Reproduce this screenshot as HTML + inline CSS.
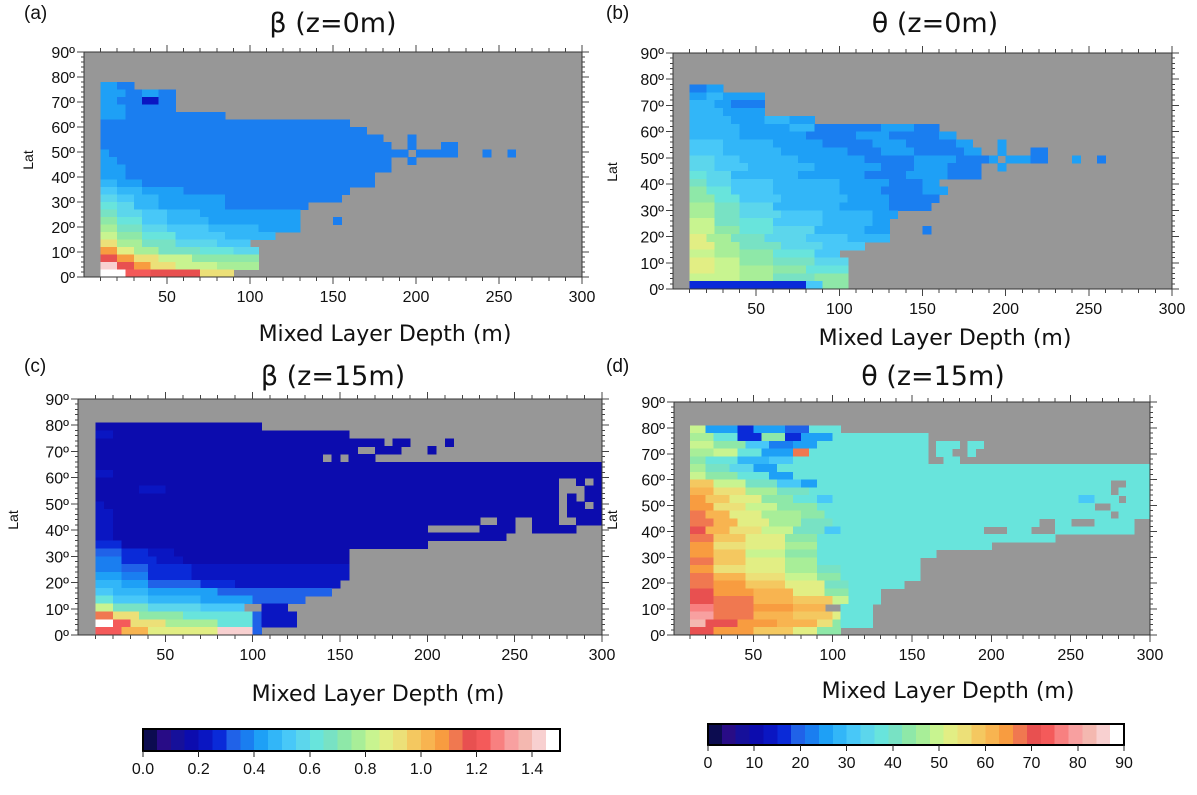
<!DOCTYPE html>
<html><head><meta charset="utf-8">
<style>
html,body{margin:0;padding:0;background:#fff;}
svg{display:block;}
.tk{font-family:"Liberation Sans",sans-serif;font-size:16px;fill:#111;}
.ttl{font-family:"DejaVu Sans","Liberation Sans",sans-serif;font-size:27px;fill:#111;}
.xt{font-family:"DejaVu Sans","Liberation Sans",sans-serif;font-size:22px;fill:#111;}
.pl{font-family:"Liberation Sans",sans-serif;font-size:19px;fill:#111;}
.lat{font-family:"Liberation Sans",sans-serif;font-size:14px;fill:#111;}
</style></head>
<body>
<svg id="fig" width="1197" height="795" viewBox="0 0 1197 795" xmlns="http://www.w3.org/2000/svg" shape-rendering="crispEdges"></svg>
<script>
// ---- data grid definition ----
const depthStart = 10, depthStep = 5, nCols = 58, latStep = 3, nRows = 30;
const colorLevels = ["#0c0c50","#280c86","#16109a","#0c0cae","#0a16c2","#0a2ad8","#2062e8","#1a7ef0","#1ea0f6","#32b6f8",
  "#48c8f8","#5cd6ec","#68e4dc","#78e2c4","#8ee8a8","#a8ee98","#c8f490","#e2ee84","#ece078","#f4c860",
  "#f8b450","#f89c40","#f07850","#e85050","#f45a5a","#f88080","#f8a0a0","#f4b8b0","#f8d0d0","#ffffff"];
const betaTicks = ["0.0","0.2","0.4","0.6","0.8","1.0","1.2","1.4"];
const betaTickVals = [0,0.2,0.4,0.6,0.8,1.0,1.2,1.4];
const thetaTicks = ["0","10","20","30","40","50","60","70","80","90"];
const thetaTickVals = [0,10,20,30,40,50,60,70,80,90];
const xTickVals = [50,100,150,200,250,300];
const yTickVals = [0,10,20,30,40,50,60,70,80,90];

// rows from top (87-90 lat) to bottom (0-3 lat); tokens "level*count", "." = no data
const rowsA = ["","","","",
"8*2 7*2",
"8*3 7*2 8*2 7*2",
"8*2 7*3 4*2 7*2",
"8*3 7*6",
"8*3 7*12",
"7*30",
"7*32",
"7*34 .*3 7*1",
"7*35 .*2 7*1 .*3 7*2",
"8*1 7*36 .*1 7*5 .*3 7*1 .*2 7*1",
"8*2 7*33 .*2 7*1",
"8*3 7*32",
"8*3 7*30",
"9*2 8*3 7*28",
"10*2 9*3 8*5 7*20",
"11*2 10*2 9*3 8*8 7*14",
"12*2 11*2 9*3 8*8 7*10",
"13*2 11*3 10*3 9*4 8*12",
"14*2 12*3 10*3 9*5 8*11 .*4 7*1",
"15*2 13*3 11*3 10*5 9*6 8*5",
"16*2 14*3 12*4 10*6 9*6",
"18*2 15*3 13*4 11*5 10*4",
"21*2 17*2 15*3 13*5 12*4 11*3",
"23*2 21*2 18*3 16*4 14*4 14*4",
"28*2 23*2 21*2 18*3 16*5 15*5",
"29*3 24*3 23*6 18*4"];

const rowsB = ["","","","",
"7*2 8*2",
"8*2 9*2 8*5",
"9*3 8*2 7*4",
"9*4 8*5",
"9*5 8*4 9*3 8*3",
"9*6 8*6 9*3 7*8 8*4 7*3",
"9*6 8*8 7*6 8*4 7*6 8*2",
"10*4 9*6 8*6 7*6 8*4 7*6 8*2 .*3 8*1",
"10*4 9*7 8*8 7*4 8*4 7*6 8*2 .*2 8*1 .*3 7*2",
"11*3 10*3 9*7 8*8 7*6 8*5 7*4 8*1 .*1 8*3 7*2 .*3 8*1 .*2 7*1",
"11*3 10*4 9*8 8*8 7*4 8*4 7*4 .*2 8*1",
"12*2 11*3 9*8 8*8 7*5 8*5 7*4",
"13*2 11*3 10*5 9*8 8*6 7*4 8*2",
"14*2 12*3 10*5 9*8 8*5 7*5 8*3",
"14*3 12*3 10*5 9*8 8*5 7*6",
"15*3 13*3 11*4 9*8 8*6 7*5",
"15*3 13*3 11*5 10*5 9*6 8*3",
"16*3 13*3 12*4 10*6 9*6 8*2",
"16*3 14*3 12*4 11*5 9*6 8*3 .*4 7*1",
"17*2 15*3 13*4 11*5 10*5 9*5",
"17*3 15*3 13*5 11*5 10*5",
"16*3 15*3 14*4 12*5 10*3",
"17*3 16*3 14*4 13*5 11*4",
"17*3 16*3 15*4 14*4 12*5",
"16*3 16*3 15*4 13*5 14*4",
"5*14 10*2 14*3"];

const rowsC = ["","","",
"3*19",
"4*2 3*27",
"3*30 3*3 .*1 3*2 .*4 3*1",
"3*30 .*2 3*3 .*3 3*1",
"3*26 .*1 3*1 .*1 3*3",
"3*58",
"4*2 3*56",
"3*53 .*2 3*1 .*1 3*1",
"3*5 4*3 3*45 .*3 3*2",
"3*53 .*1 3*1 .*1 3*2",
"4*1 3*52 .*1 3*2 .*1 3*1",
"4*2 3*51 .*1 3*4",
"4*2 3*42 .*2 3*2 .*2 3*3 .*2 3*3",
"4*2 3*36 .*6 3*4 .*2 3*5",
"4*2 3*45",
"5*3 3*35",
"6*3 5*3 4*3 3*20",
"7*3 5*4 4*3 3*19",
"7*3 6*3 5*5 4*18",
"8*3 7*3 5*5 4*18",
"9*3 8*3 6*6 5*4 4*12",
"10*2 9*4 8*8 6*13",
"12*2 10*4 9*6 8*6 6*6",
"16*2 13*4 11*6 10*5 .*2 4*3",
"22*2 18*3 14*5 12*8 6*1 4*4",
"29*2 24*2 18*4 15*6 12*4 6*1 4*4",
"24*3 20*3 17*8 28*4 6*1"];

const rowsD = ["","","",
"16*2 8*4 5*2 8*4 6*3 12*4",
"15*3 12*3 5*3 14*3 5*2 8*4 12*12",
"16*3 14*4 10*3 7*3 8*3 12*14 .*1 12*3 .*1 12*2",
"15*3 16*3 12*3 8*4 22*2 12*15 .*1 12*2 .*2 12*1",
"14*2 12*4 9*4 10*3 12*17 .*2 12*2",
"15*2 13*3 11*3 8*3 12*47",
"16*2 14*4 12*4 8*3 12*45",
"19*3 16*4 13*4 10*3 8*2 12*37 .*2 12*3",
"20*3 18*4 15*4 13*4 12*38 .*1 12*4",
"21*2 19*3 17*4 14*4 12*3 10*2 12*31 10*2 12*3 .*1 12*3",
"21*3 18*4 16*4 14*5 12*35 .*2 12*5",
"22*2 20*3 17*4 15*5 14*3 12*36 .*1 12*4",
"22*3 20*3 17*4 15*4 13*4 12*26 .*2 12*2 .*3 12*5",
"23*2 20*3 18*4 16*4 13*4 10*2 12*18 .*3 12*3 .*3 12*10",
"22*3 19*4 17*5 14*4 12*30",
"21*3 18*4 17*5 15*4 12*22",
"21*3 19*4 16*5 14*4 12*15",
"22*3 19*4 17*5 15*4 12*13",
"21*3 18*4 17*5 15*4 13*3 12*10",
"22*3 20*4 18*5 16*4 14*3 12*10",
"22*3 21*4 19*5 17*5 13*3 12*7",
"23*3 21*5 20*5 17*4 14*3 12*4",
"23*3 22*5 20*5 19*5 16*2 12*4",
"25*3 22*5 21*5 20*4 .*2 12*4",
"26*3 22*5 20*5 19*5 17*1 12*4",
"27*2 23*4 21*5 20*5 18*2 14*1 12*4",
"23*3 21*5 19*5 17*3 14*3"];

// ---- layout ----
const NS = "http://www.w3.org/2000/svg";
const svg = document.getElementById("fig");
function mk(tag, attrs, parent){ const e=document.createElementNS(NS,tag); for(const k in attrs) e.setAttribute(k,attrs[k]); (parent||svg).appendChild(e); return e; }

function expand(row){
  const out=[]; if(!row) return out;
  row.trim().split(/\s+/).forEach(t=>{ const p=t.split("*"); const n=+p[1]; for(let i=0;i<n;i++) out.push(p[0]==="."?null:+p[0]); });
  return out;
}

const panels = [
  {id:"a", rows:rowsA, x0:84, x1:582, yT:52, yB:277, title:"β (z=0m)", tx:333, ty:32, lab:"(a)", lx:24, ly:19, xtx:385, xty:341, latx:33, laty:160},
  {id:"b", rows:rowsB, x0:673, x1:1172, yT:53, yB:289, title:"θ (z=0m)", tx:935, ty:32, lab:"(b)", lx:606, ly:19, xtx:945, xty:345, latx:617, laty:172},
  {id:"c", rows:rowsC, x0:78, x1:602, yT:399, yB:635, title:"β (z=15m)", tx:333, ty:385, lab:"(c)", lx:24, ly:372, xtx:378, xty:701, latx:18, laty:520},
  {id:"d", rows:rowsD, x0:674, x1:1150, yT:402, yB:635, title:"θ (z=15m)", tx:933, ty:385, lab:"(d)", lx:606, ly:372, xtx:948, xty:698, latx:617, laty:520}
];

panels.forEach(P=>{
  const g = mk("g",{});
  
  
  const xs = d => P.x0 + d/300*(P.x1-P.x0);
  const ys = l => P.yB - l/90*(P.yB-P.yT);
  const bg = mk("rect",{x:P.x0,y:P.yT,width:P.x1-P.x0,height:P.yB-P.yT,fill:"#979797"},g);
  
  
  const cg = mk("g",{},g);
  
  
  P.rows.forEach((row,r)=>{
    const latTop = 90 - r*latStep, latBot = latTop - latStep;
    expand(row).forEach((v,c)=>{
      if(v===null || c>=nCols) return;
      const d0 = depthStart + c*depthStep, d1 = d0 + depthStep;
      const x = xs(d0), y = ys(latTop);
      const cell = mk("rect",{x:x.toFixed(2),y:y.toFixed(2),width:(xs(d1)-x+0.6).toFixed(2),height:(ys(latBot)-y+0.6).toFixed(2),fill:colorLevels[v]},cg);
      
      
    });
  });
  mk("rect",{x:P.x0,y:P.yT,width:P.x1-P.x0,height:P.yB-P.yT,fill:"none",stroke:"#333","stroke-width":1.2},g);
  let tp = "";
  for(let d=10; d<=300; d+=10){
    const x = xs(d).toFixed(1), L = d%50===0?7:4;
    tp += `M${x} ${P.yB}v${L}M${x} ${P.yT}v${-L}`;
  }
  for(let l=0; l<=90; l+=2){
    const y = ys(l).toFixed(1);
    tp += `M${P.x0} ${y}h-3M${P.x1} ${y}h3`;
  }
  yTickVals.forEach(l=>{ const y=ys(l).toFixed(1); tp += `M${P.x0} ${y}h-7M${P.x1} ${y}h7`; });
  mk("path",{d:tp,stroke:"#444","stroke-width":1,fill:"none"},g);
  xTickVals.forEach(v=>{
    const t = mk("text",{x:xs(v),y:P.yB+25,"text-anchor":"middle",class:"tk"},g);
    t.textContent = String(v);
    
    
  });
  yTickVals.forEach(v=>{
    const t = mk("text",{x:P.x0-9,y:ys(v)+6,"text-anchor":"end",class:"tk"},g);
    t.textContent = v+"º";
    
    
  });
  const tt = mk("text",{x:P.tx,y:P.ty,"text-anchor":"middle",class:"ttl"},g);
  tt.textContent = P.title;
  
  
  const lb = mk("text",{x:P.lx,y:P.ly,class:"pl"},g);
  lb.textContent = P.lab;
  
  
  const xt = mk("text",{x:P.xtx,y:P.xty,"text-anchor":"middle",class:"xt"},g);
  xt.textContent = "Mixed Layer Depth (m)";
  
  
  const la = mk("text",{x:P.latx,y:P.laty,"text-anchor":"middle",class:"lat",transform:`rotate(-90 ${P.latx} ${P.laty})`},g);
  la.textContent = "Lat";
  
  
});

function colorbar(name, x0, x1, y0, y1, vmax, vals, labels){
  const g = mk("g",{});
  
  
  const w = (x1-x0)/colorLevels.length;
  colorLevels.forEach((c,i)=>{
    const r = mk("rect",{x:(x0+i*w).toFixed(2),y:y0,width:(w+0.6).toFixed(2),height:y1-y0,fill:c},g);
    
    
  });
  mk("rect",{x:x0,y:y0,width:x1-x0,height:y1-y0,fill:"none",stroke:"#000","stroke-width":2.2},g);
  vals.forEach((v,i)=>{
    const x = x0 + v/vmax*(x1-x0);
    mk("path",{d:`M${x} ${y1}v6`,stroke:"#222","stroke-width":1},g);
    const t = mk("text",{x:x,y:y1+23,"text-anchor":"middle",class:"tk"},g);
    t.textContent = labels[i];
    
    
  });
}
colorbar("beta-colorbar", 143, 560, 729, 751, 1.5, betaTickVals, betaTicks);
colorbar("theta-colorbar", 708, 1124, 724, 745, 90, thetaTickVals, thetaTicks);
</script>
</body></html>
